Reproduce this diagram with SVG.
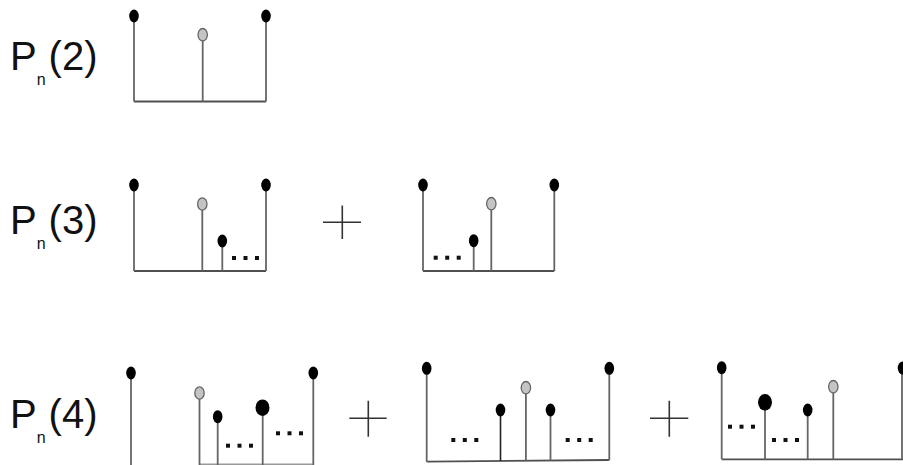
<svg xmlns="http://www.w3.org/2000/svg" width="903" height="465" viewBox="0 0 903 465">
<style>
.lbl{font-family:"Liberation Sans",Arial,sans-serif;font-size:40px;fill:#111}
.sub{font-size:16px}
.st{stroke:#666;stroke-width:1.8;fill:none}
.base{stroke:#505050;stroke-width:1.8;fill:none}
.bd{fill:#000}
.gd{fill:#c4c4c4;stroke:#666;stroke-width:1.3}
.dot{fill:#111}
.plus{stroke:#333;stroke-width:1.6}
</style>
<defs>
<ellipse id="b" cx="0" cy="0" rx="4.8" ry="6.5" class="bd"/>
<ellipse id="B" cx="0" cy="0" rx="7" ry="8.3" class="bd"/>
<ellipse id="g" cx="0" cy="0" rx="4.7" ry="6.2" class="gd"/>
<g id="dots"><rect x="-2" y="-2" width="4" height="4" class="dot"/><rect x="9.5" y="-2" width="4" height="4" class="dot"/><rect x="21" y="-2" width="4" height="4" class="dot"/></g>
</defs>

<g id="label-p2"><text class="lbl" x="10" y="70">P<tspan class="sub" dy="15">n</tspan><tspan dx="3" dy="-15">(2)</tspan></text></g>
<g id="label-p3"><text class="lbl" x="10" y="234">P<tspan class="sub" dy="15">n</tspan><tspan dx="3" dy="-15">(3)</tspan></text></g>
<g id="label-p4"><text class="lbl" x="10" y="428">P<tspan class="sub" dy="15">n</tspan><tspan dx="3" dy="-15">(4)</tspan></text></g>

<g id="tree-p2">
<path class="base" d="M134 101.5H266"/>
<path class="st" d="M134 16V101.5M202.7 34.7V101.5M266 16V101.5"/>
<use href="#b" x="134" y="16"/>
<use href="#g" x="202.7" y="34.7"/>
<use href="#b" x="266" y="16"/>
</g>

<g id="tree-p3a">
<path class="base" d="M134 271H266"/>
<path class="st" d="M134 185V271M202.3 204V271M222.3 241V271M266 185V271"/>
<use href="#b" x="134" y="185"/>
<use href="#g" x="202.3" y="204"/>
<use href="#b" x="222.3" y="241"/>
<use href="#b" x="266" y="185"/>
<use href="#dots" x="234" y="258"/>
</g>

<g id="plus-1"><path class="plus" d="M323 222.3H361M342.3 205.5V239"/></g>

<g id="tree-p3b">
<path class="base" d="M423 271H554.3"/>
<path class="st" d="M423 185V271M473.7 240.7V271M491.3 203.7V271M554.3 185V271"/>
<use href="#b" x="423" y="185"/>
<use href="#b" x="473.7" y="240.7"/>
<use href="#g" x="491.3" y="203.7"/>
<use href="#b" x="554.3" y="185"/>
<use href="#dots" x="435.7" y="257.7"/>
</g>

<g id="tree-p4a">
<path class="base" d="M199.5 464.5H313.3" style="stroke:#999"/>
<path class="st" d="M131 373V465M199.5 393V465M217.7 416.7V465M262.7 407.7V465M313.3 373V465"/>
<use href="#b" x="131" y="373"/>
<use href="#g" x="199.5" y="393"/>
<use href="#b" x="217.7" y="416.7"/>
<use href="#B" x="262.5" y="407.7"/>
<use href="#b" x="313.3" y="373"/>
<use href="#dots" x="228" y="445.7"/>
<use href="#dots" x="278" y="433.3"/>
</g>

<g id="plus-2"><path class="plus" d="M349.3 418.3H386.7M368.3 400.7V436.7"/></g>

<g id="tree-p4b">
<path class="base" d="M426.7 461.7L609.3 460"/>
<path class="st" d="M426.7 368.3V461.7M525.9 387.7V460.7M550.5 410V460.5M609.3 368.3V460"/>
<path d="M500.5 410V461" style="stroke:#222;stroke-width:1.6;fill:none"/>
<use href="#b" x="426.7" y="368.3"/>
<use href="#b" x="500.5" y="410"/>
<use href="#g" x="525.9" y="387.7"/>
<use href="#b" x="550.5" y="410"/>
<use href="#b" x="609.3" y="368.3"/>
<use href="#dots" x="453.3" y="440"/>
<use href="#dots" x="567.7" y="440"/>
</g>

<g id="plus-3"><path class="plus" d="M650 418.3H688.3M669.3 400.7V436.7"/></g>

<g id="tree-p4c">
<path class="base" d="M721.7 459.3H903"/>
<path class="st" d="M721.7 367.7V459.3M765 402.3V459.3M807.7 410V459.3M833.3 386.7V459.3M902 368V459.3"/>
<use href="#b" x="721.7" y="367.7"/>
<use href="#B" x="765" y="402.3"/>
<use href="#b" x="807.7" y="410"/>
<use href="#g" x="833.3" y="386.7"/>
<use href="#b" x="902.5" y="368"/>
<use href="#dots" x="730" y="426.7"/>
<use href="#dots" x="774" y="440"/>
</g>
</svg>
